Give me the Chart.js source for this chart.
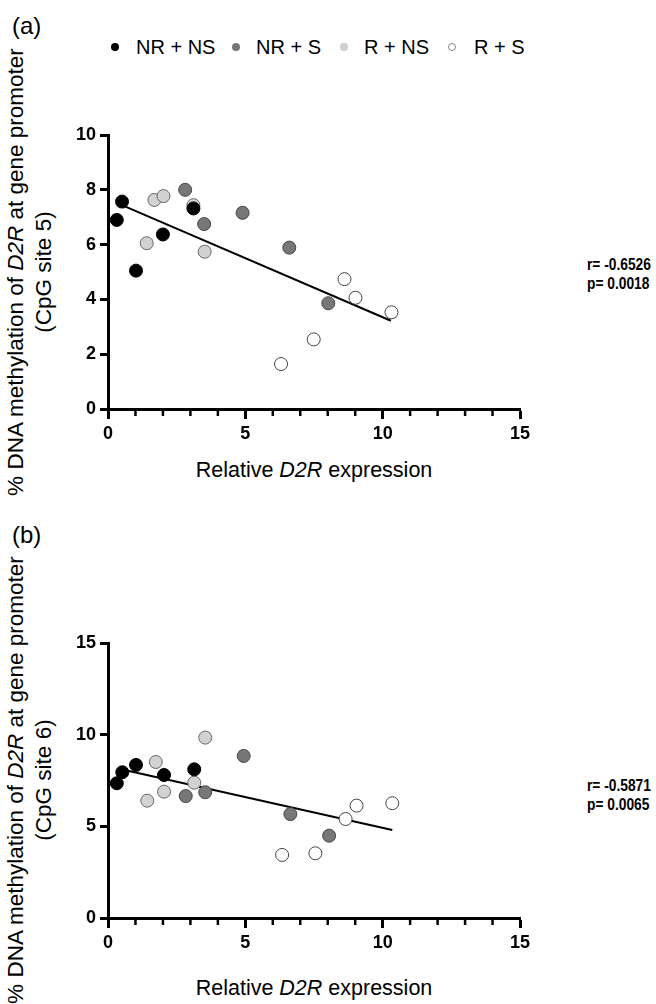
<!DOCTYPE html>
<html>
<head>
<meta charset="utf-8">
<script src="https://cdn.jsdelivr.net/npm/chart.js@4.4.1/dist/chart.umd.min.js"></script>
<style>
  html, body { margin: 0; padding: 0; background: #fff; }
  body { width: 656px; height: 1004px; position: relative; overflow: hidden;
         font-family: "Liberation Sans", Arial, sans-serif; color: #000; }
  canvas { position: absolute; left: 0; }
  .txt { position: absolute; white-space: nowrap; }
  .panel { font-size: 24px; line-height: 24px; }
  .leg { font-size: 20px; line-height: 20px; top: 37px; }
  .dot { position: absolute; width: 8px; height: 8px; border-radius: 50%; box-sizing: border-box; top: 43px; }
  .ytitle { position: absolute; width: 520px; height: 56px; font-size: 22.5px; line-height: 28px;
            text-align: center; transform: rotate(-90deg); }
  .xtitle { font-size: 21.5px; line-height: 22px; width: 420px; text-align: center; }
  .stat { font-size: 16px; font-weight: bold; line-height: 19px; transform: scaleX(0.86); transform-origin: left top; }
</style>
</head>
<body>
<div class="txt panel" style="left:12px; top:14px;">(a)</div>
<div class="txt panel" style="left:12px; top:523px;">(b)</div>

<div class="dot" style="left:111px; background:#000;"></div>
<div class="txt leg" style="left:136px;">NR + NS</div>
<div class="dot" style="left:232px; background:#777;"></div>
<div class="txt leg" style="left:256px;">NR + S</div>
<div class="dot" style="left:340px; background:#cfcfcf;"></div>
<div class="txt leg" style="left:364px;">R + NS</div>
<div class="dot" style="left:448px; background:#fff; border:1px solid #888;"></div>
<div class="txt leg" style="left:474px;">R + S</div>

<div class="ytitle" style="left:-230px; top:244px;">% DNA methylation of <i>D2R</i> at gene promoter<br>(CpG site 5)</div>
<div class="ytitle" style="left:-230px; top:752px;">% DNA methylation of <i>D2R</i> at gene promoter<br>(CpG site 6)</div>

<div class="txt xtitle" style="left:104px; top:459px;">Relative <i>D2R</i> expression</div>
<div class="txt xtitle" style="left:104px; top:977px;">Relative <i>D2R</i> expression</div>

<div class="txt stat" style="left:587px; top:255px;">r= -0.6526<br>p= 0.0018</div>
<div class="txt stat" style="left:587px; top:776px;">r= -0.5871<br>p= 0.0065</div>

<canvas id="chartA" style="top:0px;"></canvas>
<canvas id="chartB" style="top:504px;"></canvas>

<script>
// panel (a): CpG site 5
const nrnsA_x = [0.32, 0.51, 1.02, 2.00, 3.11];
const nrnsA_y = [6.90, 7.57, 5.05, 6.37, 7.32];
const nrsA_x = [2.81, 3.50, 4.90, 6.60, 8.02];
const nrsA_y = [8.00, 6.75, 7.16, 5.89, 3.86];
const rnsA_x = [1.41, 1.69, 2.02, 3.11, 3.52];
const rnsA_y = [6.05, 7.63, 7.77, 7.44, 5.74];
const rsA_x = [6.30, 7.49, 8.61, 9.01, 10.32];
const rsA_y = [1.64, 2.54, 4.74, 4.06, 3.53];
const fitA_x = [0.55, 10.30];
const fitA_y = [7.42, 3.22];

// panel (b): CpG site 6
const nrnsB_x = [0.32, 0.52, 1.02, 2.04, 3.14];
const nrnsB_y = [7.35, 7.95, 8.35, 7.80, 8.11];
const nrsB_x = [2.83, 3.54, 4.94, 6.64, 8.05];
const nrsB_y = [6.65, 6.86, 8.84, 5.67, 4.49];
const rnsB_x = [1.43, 1.74, 2.04, 3.14, 3.54];
const rnsB_y = [6.40, 8.51, 6.89, 7.38, 9.84];
const rsB_x = [6.34, 7.55, 8.65, 9.05, 10.35];
const rsB_y = [3.44, 3.53, 5.40, 6.13, 6.26];
const fitB_x = [0.68, 10.35];
const fitB_y = [8.04, 4.80];

const GROUPS = [
  { name: 'NR + NS', fill: '#000000', border: '#000000' },
  { name: 'NR + S', fill: '#777777', border: '#444444' },
  { name: 'R + NS', fill: '#d2d2d2', border: '#666666' },
  { name: 'R + S', fill: '#ffffff', border: '#444444' },
];

const FONT = 'Liberation Sans';
const zip = (xs, ys) => xs.map((x, i) => ({ x, y: ys[i] }));

// short minor ticks on the x axis, every 1 unit
const minorTicks = {
  id: 'minorTicks',
  afterDraw(chart) {
    const sx = chart.scales.x;
    const b = chart.chartArea.bottom;
    const ctx = chart.ctx;
    ctx.save();
    ctx.strokeStyle = '#000';
    ctx.lineWidth = 2.5;
    for (let v = 1; v < 15; v++) {
      if (v % 5 === 0) continue;
      const px = sx.getPixelForValue(v);
      ctx.beginPath();
      ctx.moveTo(px, b);
      ctx.lineTo(px, b + 7);
      ctx.stroke();
    }
    ctx.restore();
  }
};

function makeChart(id, groups, fit, yMax, yStep, padTop) {
  const canvas = document.getElementById(id);
  canvas.width = 656;
  canvas.height = 500;
  canvas.style.width = '656px';
  canvas.style.height = '500px';

  const datasets = groups.map((pts, i) => ({
    label: GROUPS[i].name,
    data: pts,
    backgroundColor: GROUPS[i].fill,
    borderColor: GROUPS[i].border,
    borderWidth: 1,
    pointRadius: 6.5,
    order: i,
  }));
  datasets.push({
    label: 'fit',
    data: fit,
    showLine: true,
    borderColor: '#000',
    borderWidth: 2,
    pointRadius: 0,
    order: 10,
  });

  const axisBase = {
    border: { display: true, color: '#000', width: 3 },
    grid: { display: true, drawOnChartArea: false, drawTicks: true, tickLength: 10, tickWidth: 3, tickColor: '#000' },
  };

  return new Chart(canvas.getContext('2d'), {
    type: 'scatter',
    data: { datasets },
    options: {
      responsive: false,
      animation: false,
      layout: { padding: { left: 48, right: 136, top: padTop, bottom: 500 - padTop - (yMax === 10 ? 274 : 275) - 60 } },
      plugins: { legend: { display: false }, tooltip: { enabled: false } },
      scales: {
        x: {
          ...axisBase,
          min: 0, max: 15,
          afterFit: s => { s.height = 60; },
          ticks: { stepSize: 5, color: '#000', padding: 4, font: { family: FONT, size: 18, weight: 'bold' } },
        },
        y: {
          ...axisBase,
          min: 0, max: yMax,
          afterFit: s => { s.width = 60; },
          grid: { ...axisBase.grid, tickLength: 8 },
          ticks: { stepSize: yStep, color: '#000', padding: 4, font: { family: FONT, size: 18, weight: 'bold' } },
        },
      },
    },
    plugins: [minorTicks],
  });
}

makeChart('chartA',
  [zip(nrnsA_x, nrnsA_y), zip(nrsA_x, nrsA_y), zip(rnsA_x, rnsA_y), zip(rsA_x, rsA_y)],
  zip(fitA_x, fitA_y), 10, 2, 135);

makeChart('chartB',
  [zip(nrnsB_x, nrnsB_y), zip(nrsB_x, nrsB_y), zip(rnsB_x, rnsB_y), zip(rsB_x, rsB_y)],
  zip(fitB_x, fitB_y), 15, 5, 139);
</script>
</body>
</html>
